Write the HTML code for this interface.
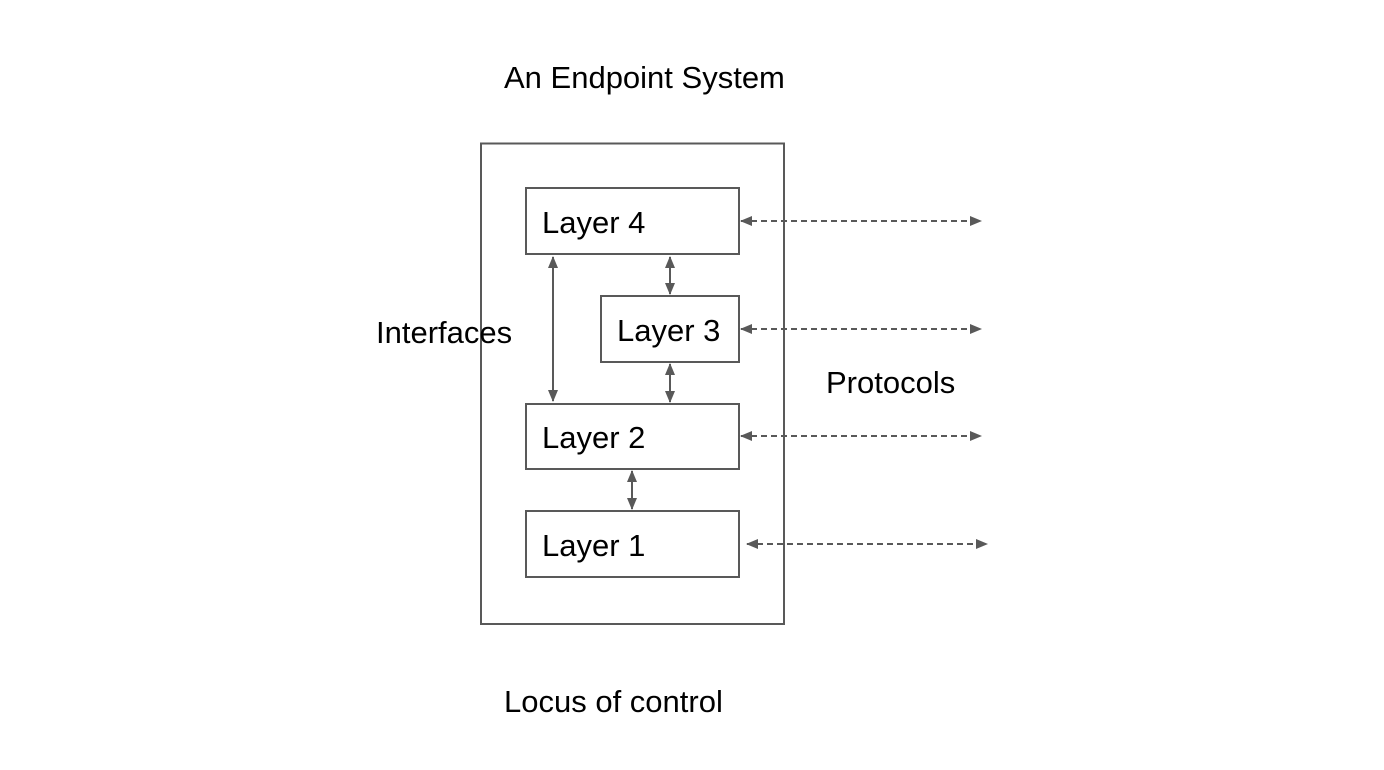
<!DOCTYPE html>
<html><head><meta charset="utf-8"><style>
html,body{margin:0;padding:0;background:#fff;width:1384px;height:770px;overflow:hidden}
text{font-family:"Liberation Sans",Arial,sans-serif;font-size:31px;fill:#000}
</style></head><body>
<svg width="1384" height="770" viewBox="0 0 1384 770" xmlns="http://www.w3.org/2000/svg">
<defs>
<marker id="a" viewBox="0 0 12 10" refX="11" refY="5" markerWidth="6.5" markerHeight="5" orient="auto-start-reverse" markerUnits="strokeWidth"><path d="M0,0 L12,5 L0,10 z" fill="#595959"/></marker>
</defs>
<g fill="none" stroke="#595959" stroke-width="2">
<rect x="481" y="143.5" width="303" height="480.5"/>
<rect x="526" y="188" width="213" height="66"/>
<rect x="601" y="296" width="138" height="66"/>
<rect x="526" y="404" width="213" height="65"/>
<rect x="526" y="511" width="213" height="66"/>
</g>
<g stroke="#595959" stroke-width="2" marker-start="url(#a)" marker-end="url(#a)">
<line x1="553" y1="257" x2="553" y2="401"/>
<line x1="670" y1="257" x2="670" y2="294"/>
<line x1="670" y1="364" x2="670" y2="402"/>
<line x1="632" y1="471" x2="632" y2="509"/>
<line x1="741" y1="221" x2="981" y2="221" stroke-dasharray="6,4"/>
<line x1="741" y1="329" x2="981" y2="329" stroke-dasharray="6,4"/>
<line x1="741" y1="436" x2="981" y2="436" stroke-dasharray="6,4"/>
<line x1="747" y1="544" x2="987" y2="544" stroke-dasharray="6,4"/>
</g>
<text x="504" y="88">An Endpoint System</text>
<text x="542" y="233">Layer 4</text>
<text x="617" y="341">Layer 3</text>
<text x="542" y="448">Layer 2</text>
<text x="542" y="556">Layer 1</text>
<text x="376" y="343">Interfaces</text>
<text x="826" y="393">Protocols</text>
<text x="504" y="712">Locus of control</text>
</svg>
</body></html>
